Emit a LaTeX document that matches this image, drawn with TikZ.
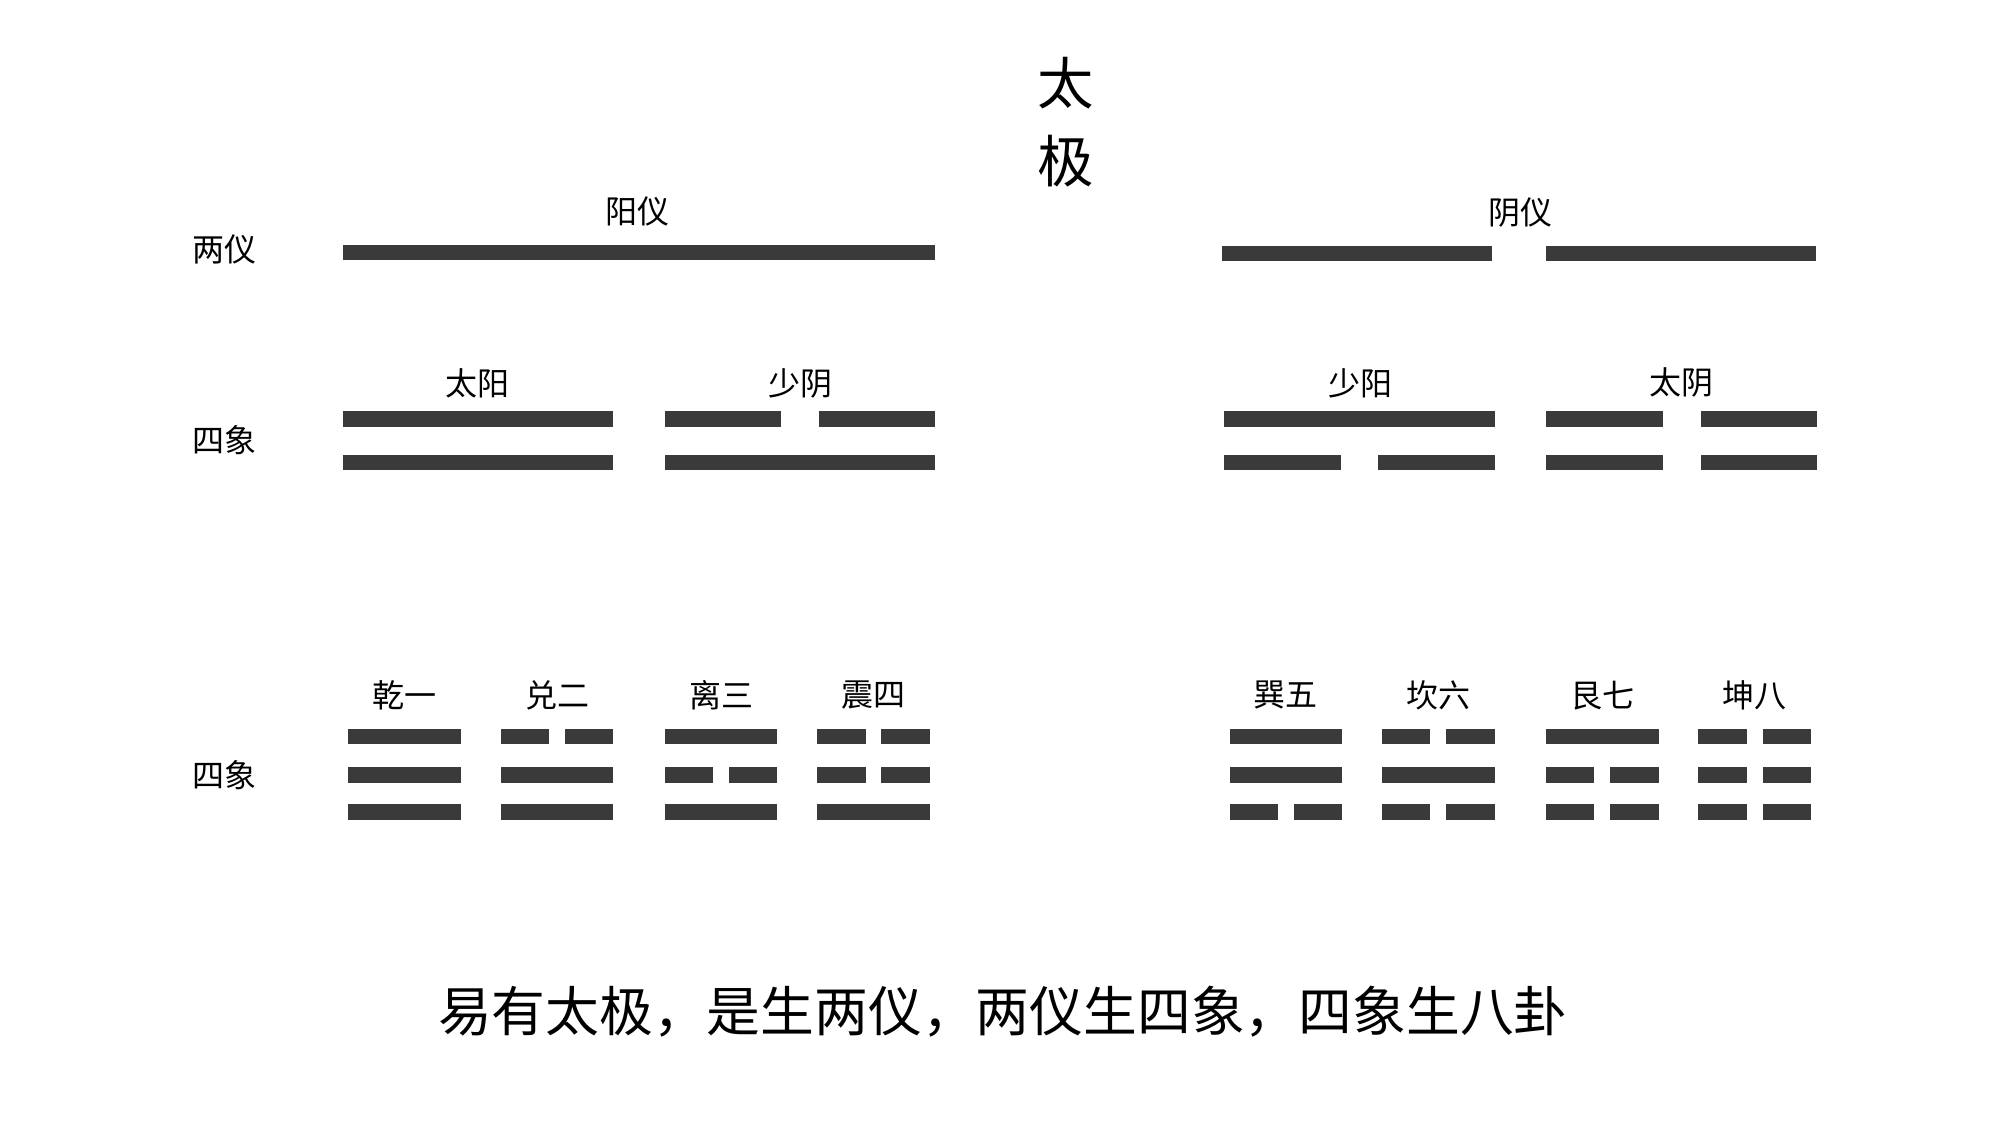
\documentclass[tikz,border=0pt]{standalone}
\usepackage{fontspec}
\setmainfont{Noto Sans CJK SC}
\tikzset{every picture/.style={line width=0.75pt}}
\tikzset{
  yao/.style={fill={rgb,255:red,58;green,58;blue,58}},
  lbl/.style={inner sep=0pt,font=\fontsize{25}{25}\selectfont},
}
% full line or broken line, centre x, centre y, width
\newcommand{\yaoline}[4]{%
  \ifnum#1=1
    \fill[yao] (#2-#4/2,#3-6) rectangle (#2+#4/2,#3+6);
  \else
    \fill[yao] (#2-#4/2,#3-6) rectangle (#2-#4*0.07,#3+6);
    \fill[yao] (#2+#4*0.07,#3-6) rectangle (#2+#4/2,#3+6);
  \fi}
% trigram: name, centre x, label, top/mid/bottom lines
\newcommand{\gua}[6]{%
  \node[lbl] (#1) at (#2,543) {#3};
  \yaoline{#4}{#2}{575}{88}
  \yaoline{#5}{#2}{605}{88}
  \yaoline{#6}{#2}{634}{88}}
\begin{document}
\begin{tikzpicture}[x=1pt,y=1pt,yscale=-1]
\useasboundingbox[fill=white] (0,0) rectangle (1560,878);

% Title
\node[inner sep=0pt,font=\fontsize{44}{44}\selectfont] (tai) at (832,65) {太};
\node[inner sep=0pt,font=\fontsize{44}{44}\selectfont] (ji) at (832,126) {极};

% Row labels
\node[lbl] (liangyi) at (175,195) {两仪};
\node[lbl] (sixiang) at (175,344) {四象};
\node[lbl] (bagua) at (175,605) {四象};

% Two modes
\node[lbl] (yangyi) at (498,165) {阳仪};
\fill[yao] (268,191) rectangle (730,203);
\node[lbl] (yinyi) at (1187,166) {阴仪};
\fill[yao] (954,192) rectangle (1165,204);
\fill[yao] (1207,192) rectangle (1418,204);

% Four images
\node[lbl] (taiyang) at (373,299) {太阳};
\yaoline{1}{373.5}{327}{211}
\yaoline{1}{373.5}{361}{211}
\node[lbl] (shaoyin) at (625,299) {少阴};
\yaoline{0}{624.5}{327}{211}
\yaoline{1}{624.5}{361}{211}
\node[lbl] (shaoyang) at (1062,299) {少阳};
\yaoline{1}{1061.5}{327}{211}
\yaoline{0}{1061.5}{361}{211}
\node[lbl] (taiyin) at (1313,299) {太阴};
\yaoline{0}{1313}{327}{212}
\yaoline{0}{1313}{361}{212}

% Eight trigrams
\gua{qian}{316}{乾一}{1}{1}{1}
\gua{dui}{435}{兑二}{0}{1}{1}
\gua{li}{563}{离三}{1}{0}{1}
\gua{zhen}{682}{震四}{0}{0}{1}
\gua{xun}{1004}{巽五}{1}{1}{0}
\gua{kan}{1123}{坎六}{0}{1}{0}
\gua{gen}{1251}{艮七}{1}{0}{0}
\gua{kun}{1370}{坤八}{0}{0}{0}

% Caption
\node[inner sep=0pt,font=\fontsize{42}{42}\selectfont] (caption) at (783,790) {易有太极，是生两仪，两仪生四象，四象生八卦};
\end{tikzpicture}
\end{document}
